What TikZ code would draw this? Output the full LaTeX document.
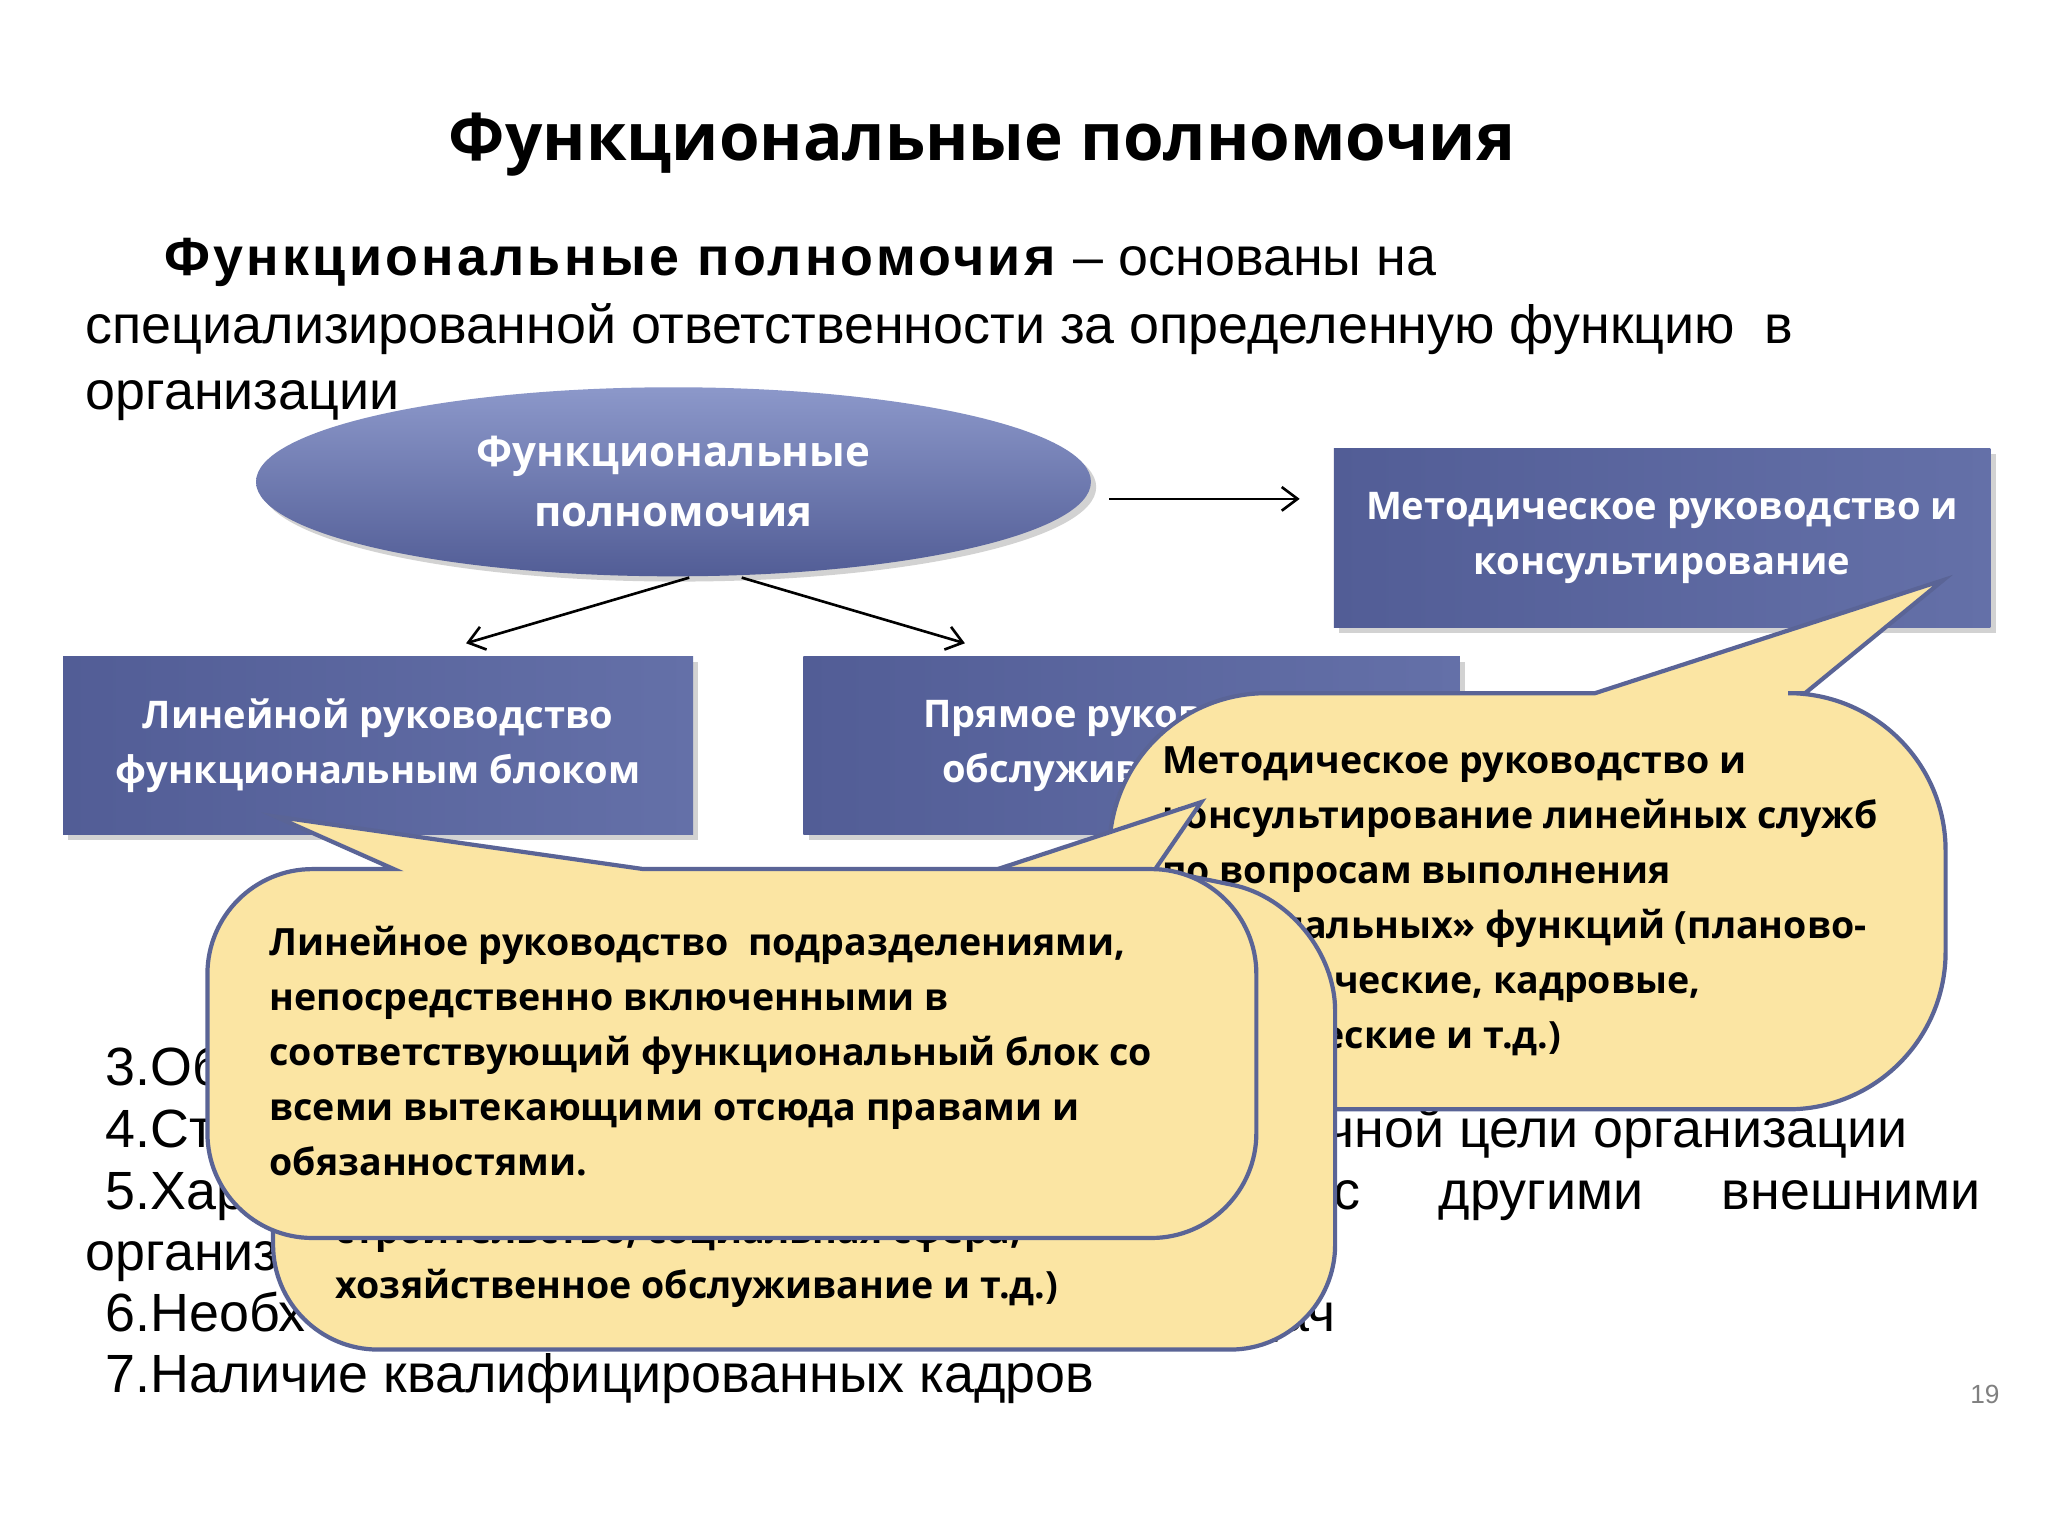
\documentclass[tikz,border=0pt]{standalone}
\usepackage{fontspec}
\setmainfont{Liberation Sans}
\newfontfamily\osans{Open Sans}
\usetikzlibrary{shapes.geometric,arrows.meta,shadows}
\definecolor{bx}{HTML}{6470A8}
\definecolor{bxd}{HTML}{525D96}
\definecolor{elt}{HTML}{8C98CA}
\definecolor{cf}{HTML}{FBE5A3}
\definecolor{cb}{HTML}{5A6496}
\tikzset{
 box/.style={rectangle,minimum width=240pt,minimum height=68pt,left color=bxd,right color=bx,draw=none,text=white,font=\osans\bfseries\fontsize{14.5}{21}\selectfont,align=center,drop shadow={shadow xshift=2pt,shadow yshift=-2pt,opacity=.35}},
 callout/.style={fill=cf,draw=cb,line width=1.6pt},
 ctext/.style={anchor=north west,font=\osans\bfseries\fontsize{14.3}{21}\selectfont,align=left,inner sep=0},
 body/.style={anchor=base west,font=\fontsize{20.5}{26}\selectfont,inner sep=0},
 arr/.style={-{Straight Barb[length=6pt,width=9pt]},line width=1pt}
}
\begin{document}
\begin{tikzpicture}[x=0.5pt,y=-0.5pt]
\useasboundingbox[fill=white] (0,0) rectangle (1560,1170);
\node[font=\osans\bfseries\fontsize{25}{30}\selectfont] (title) at (748,110) {Функциональные полномочия};
\node[body] (p1) at (125,210) {\textbf{\addfontfeature{LetterSpace=6}Функциональные полномочия} – основаны на};
\node[body] (p2) at (65,262) {специализированной ответственности за определенную функцию \ в};
\node[body] (p3) at (65,312) {организации};
% list fragments
\node[body] (l3) at (80,827) {3.Об};
\node[body] (l4) at (80,874) {4.Ст};
\node[body] (l4b) at (1010,874) {чной цели организации};
\node[body] (l5) at (80,921) {5.Хар};
\node[body] (l5b) at (1015,921) {с\hspace{30pt}другими\hspace{30pt}внешними};
\node[body] (l5c) at (65,968) {организ};
\node[body] (l6) at (80,1014) {6.Необх};
\node[body] (l6b) at (950,1014) {дач};
\node[body] (l7) at (80,1061) {7.Наличие квалифицированных кадров};
\node[text=gray,font=\fontsize{10}{12}\selectfont] (num) at (1512,1062) {19};
% ellipse
\node[ellipse,minimum width=318pt,minimum height=72pt,top color=elt,bottom color=bxd,text=white,font=\osans\bfseries\fontsize{16}{23}\selectfont,align=center,drop shadow={shadow xshift=2pt,shadow yshift=-2pt,opacity=.35}] (ell) at (513,367) {Функциональные\\полномочия};
\node[box,minimum width=250pt] (bm) at (1266,410) {Методическое руководство и\\консультирование};
\node[box] (bl) at (288,568) {Линейной руководство\\функциональным блоком};
\node[box,minimum width=250pt] (bc) at (862,568) {Прямое руководство\\обслуживающими};
\coordinate (e1) at (525,440); \coordinate (e2) at (565,440);
\coordinate (e3) at (845,380); \coordinate (m1) at (990,380);
\coordinate (l1) at (355,490); \coordinate (r1) at (735,490);
\draw[arr] (e3) -- (m1);
\draw[arr] (e1) -- (l1);
\draw[arr] (e2) -- (r1);
% callout 2 (right)
\draw[callout] (1215,528) -- (1480,442) -- (1375,528) [rounded corners=60pt] -- (1482,528) -- (1482,845) -- (845,845) -- (845,528) [sharp corners] -- cycle;
\node[ctext] (c2) at (885,568) {Методическое руководство и\\консультирование линейных служб\\по вопросам выполнения\\«специальных» функций (планово-\\экономические, кадровые,\\юридические и т.д.)};
% callout 3 (middle)
\draw[callout] (760,662) -- (915,611) -- (880,662) [rounded corners=40pt] -- (1017,690) -- (1017,1028) -- (208,1028) -- (208,690) [sharp corners] -- cycle;
\node[ctext] (c3) at (255,925) {строительство, социальная сфера,\\хозяйственное обслуживание и т.д.)};
% callout 1 (front)
\draw[callout] (300,662) -- (210,622) -- (490,662) [rounded corners=40pt] -- (957,662) -- (957,943) -- (158,943) -- (158,662) [sharp corners] -- cycle;
\node[ctext] (c1) at (205,705) {Линейное руководство \ подразделениями,\\непосредственно включенными в\\соответствующий функциональный блок со\\всеми вытекающими отсюда правами и\\обязанностями.};
\end{tikzpicture}
\end{document}
